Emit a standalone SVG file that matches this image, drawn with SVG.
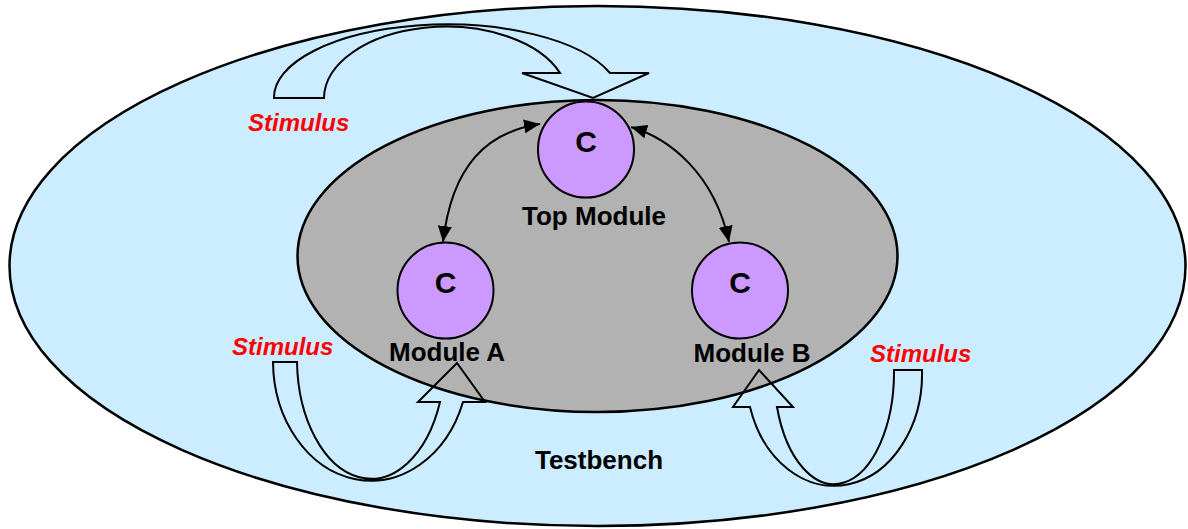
<svg xmlns="http://www.w3.org/2000/svg" width="1188" height="529" viewBox="0 0 1188 529">
  <style>
    .bench { fill: #ccecff; stroke: #000; stroke-width: 2.5; }
    .dut { fill: #b2b2b2; stroke: #000; stroke-width: 2.5; }
    .comp { fill: #cc99ff; stroke: #000; stroke-width: 2; }
    .block-arrow { fill: none; stroke: #000; stroke-width: 2; stroke-linejoin: miter; }
    .link { fill: none; stroke: #000; stroke-width: 2; marker-start: url(#head); marker-end: url(#head); }
    .lbl { font-family: "Liberation Sans", Arial, sans-serif; font-weight: bold; font-size: 26px; fill: #000; text-anchor: middle; }
    .c { font-size: 30px; }
    .stim { font-family: "Liberation Sans", Arial, sans-serif; font-weight: bold; font-style: italic; font-size: 24px; fill: #ff0000; }
  </style>
  <defs>
    <marker id="head" markerUnits="userSpaceOnUse" markerWidth="17" markerHeight="14" refX="16" refY="7" orient="auto-start-reverse">
      <path d="M0,0 L16,7 L0,14 Z" fill="#000"/>
    </marker>
  </defs>

  <!-- testbench environment -->
  <g id="testbench">
    <ellipse class="bench" cx="597.5" cy="266" rx="588" ry="260"/>
    <text class="lbl" x="599" y="469">Testbench</text>
  </g>

  <!-- design under test -->
  <g id="design">
    <ellipse class="dut" cx="597.5" cy="256" rx="300" ry="156"/>
  </g>

  <!-- stimulus block arrows -->
  <g id="stimulus-top">
    <path class="block-arrow" d="M274,98 A173,73 0 0,1 610,73 L649,73 L593,98 L522,73 L560,73 A122,72 0 0,0 324,98 Z"/>
    <text class="stim" x="248" y="131">Stimulus</text>
  </g>
  <g id="stimulus-a">
    <path class="block-arrow" d="M273,362 A98,120 0 0,0 463,402 L485,402 L457,363 L418,402 L440,402 A74,120 0 0,1 297,362 Z"/>
    <text class="stim" x="232" y="355">Stimulus</text>
  </g>
  <g id="stimulus-b">
    <path class="block-arrow" d="M922,370 A88,112 0 0,1 750,407 L733,407 L759,370 L793,407 L777,407 A60,112 0 0,0 894,370 Z"/>
    <text class="stim" x="870" y="362">Stimulus</text>
  </g>

  <!-- component connections -->
  <g id="connectors">
    <path class="link" d="M540,124 C487,132 452,165 443,242"/>
    <path class="link" d="M631,127 C668,138 714,172 729,242"/>
  </g>

  <!-- components -->
  <g id="top-module">
    <circle class="comp" cx="586" cy="149.5" r="48"/>
    <text class="lbl c" x="586" y="152">C</text>
    <text class="lbl" x="594" y="225">Top Module</text>
  </g>
  <g id="module-a">
    <circle class="comp" cx="445.5" cy="290.5" r="48"/>
    <text class="lbl c" x="445.5" y="293">C</text>
    <text class="lbl" x="447" y="361">Module A</text>
  </g>
  <g id="module-b">
    <circle class="comp" cx="740" cy="290.5" r="48"/>
    <text class="lbl c" x="740" y="293">C</text>
    <text class="lbl" x="752" y="362">Module B</text>
  </g>
</svg>
